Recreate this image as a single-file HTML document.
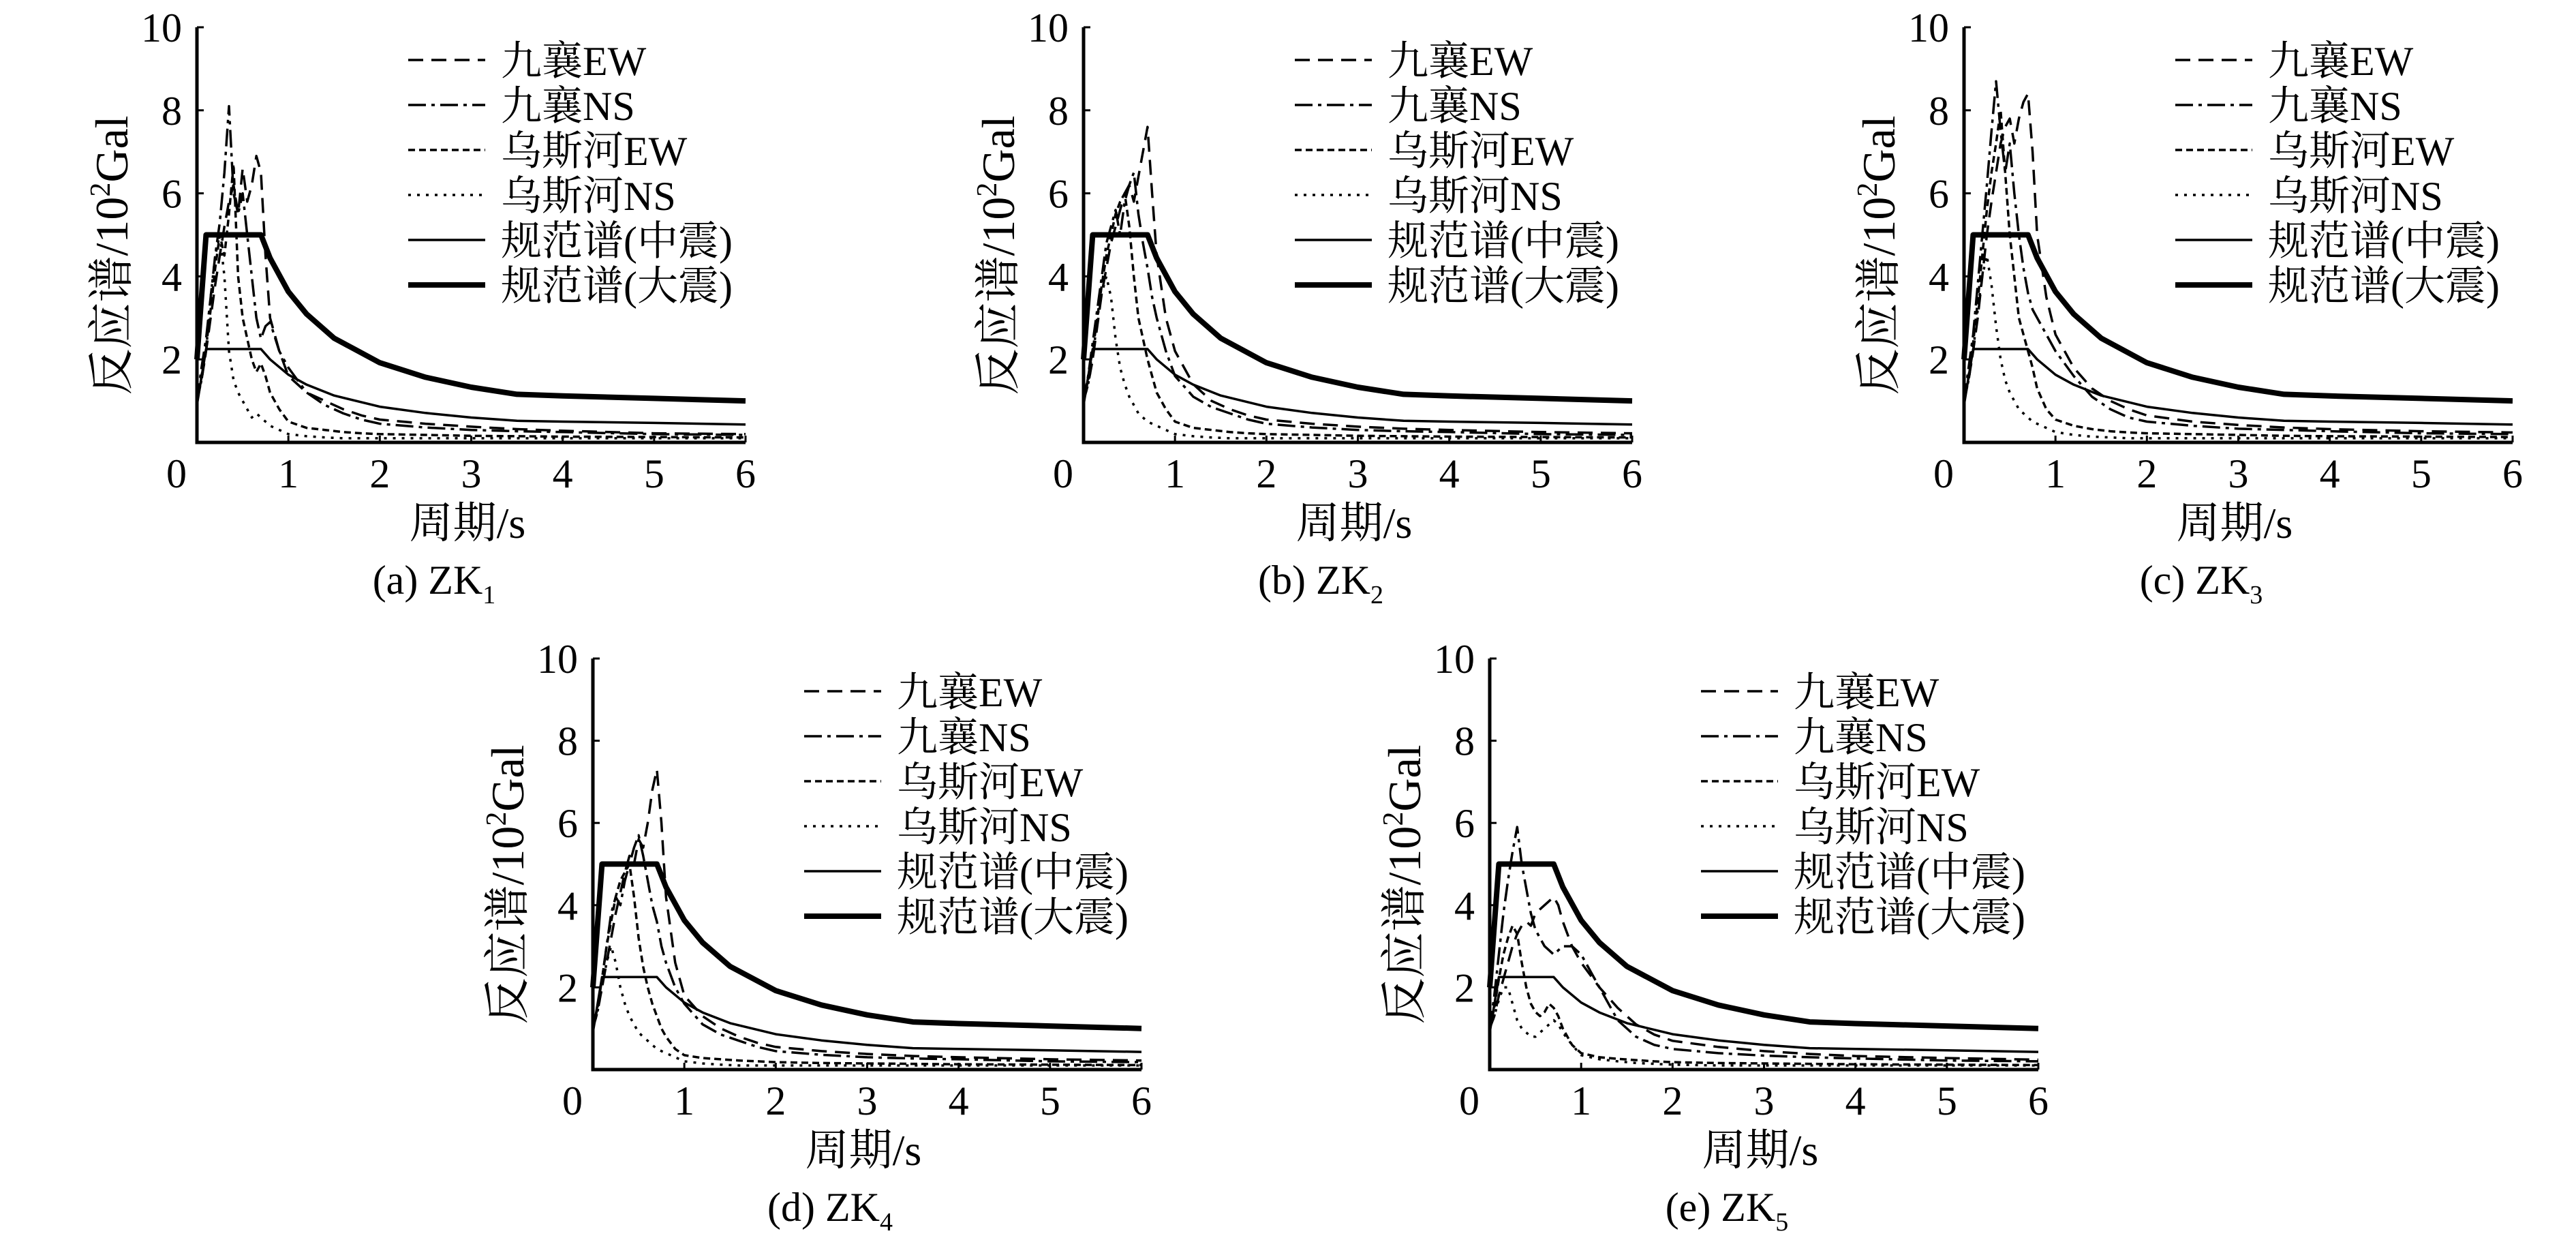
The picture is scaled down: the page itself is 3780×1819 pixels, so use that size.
<!DOCTYPE html>
<html><head><meta charset="utf-8">
<style>
html,body{margin:0;padding:0;background:#fff;}
svg{display:block;}
text{font-family:"Liberation Serif","Noto Serif CJK SC",serif;fill:#000;}
</style></head>
<body>
<svg id="chart" width="3780" height="1819" viewBox="0 0 3780 1819" xmlns="http://www.w3.org/2000/svg"></svg>
<script>
// shared period grid for records
const periods = [0,0.05,0.1,0.15,0.2,0.25,0.3,0.35,0.4,0.45,0.5,0.55,0.6,0.65,0.7,0.75,0.8,0.9,1.0,1.2,1.4,1.6,1.8,2,2.5,3,3.5,4,5,6];
// code spectra
const codePeriods = [0,0.1,0.7,0.8,1,1.2,1.5,2,2.5,3,3.5,4,5,6];
const codeMid   = [0.9,2.25,2.25,2.0,1.63,1.39,1.13,0.86,0.71,0.6,0.52,0.5,0.47,0.43];
const codeLarge = [2.0,5.0,5.0,4.44,3.63,3.09,2.51,1.92,1.57,1.33,1.16,1.12,1.06,1.0];
const xTicks = [0,1,2,3,4,5,6];
const yTicks = [2,4,6,8,10];
const legendLabels = ["九襄EW","九襄NS","乌斯河EW","乌斯河NS","规范谱(中震)","规范谱(大震)"];
const panelLetters = ["a","b","c","d","e"];
const panelSubs = ["1","2","3","4","5"];
// panel a
const aEW = [1.0,1.5,2.2,3.0,3.8,4.5,5.2,5.8,6.2,5.5,6.6,5.8,6.2,6.9,6.5,4.5,3.0,2.2,1.6,1.2,1.0,0.8,0.65,0.55,0.45,0.38,0.32,0.28,0.22,0.2];
const aNS = [1.0,1.8,2.5,3.5,4.5,5.3,6.5,8.1,6.0,5.5,6.0,5.0,4.0,3.0,2.5,2.8,2.9,2.2,1.8,1.2,0.9,0.7,0.55,0.45,0.36,0.3,0.27,0.25,0.2,0.18];
const aWEW = [1.0,1.6,2.3,3.2,4.2,5.0,4.5,5.5,6.7,4.0,3.0,2.5,2.0,1.7,1.9,1.6,1.2,0.8,0.5,0.35,0.3,0.25,0.22,0.2,0.18,0.16,0.15,0.14,0.13,0.12];
const aWNS = [1.0,1.5,2.2,3.5,4.5,5.0,4.0,2.2,1.5,1.2,1.0,0.8,0.6,0.7,0.6,0.5,0.4,0.3,0.2,0.15,0.12,0.1,0.1,0.1,0.1,0.1,0.1,0.1,0.1,0.1];
// panel b
const bEW = [1.0,1.4,2.0,2.8,3.6,4.2,4.8,5.2,5.6,6.0,6.2,5.8,6.4,7.0,7.6,6.0,4.5,3.0,2.2,1.4,1.0,0.8,0.65,0.55,0.45,0.38,0.33,0.3,0.25,0.22];
const bNS = [1.0,1.6,2.4,3.2,4.0,4.8,5.2,5.6,5.0,5.8,6.2,6.5,5.5,4.8,4.2,3.5,3.0,2.2,1.6,1.1,0.85,0.7,0.55,0.45,0.36,0.3,0.27,0.25,0.2,0.18];
const bWEW = [1.0,1.5,2.2,3.0,3.8,4.5,5.0,5.5,5.8,6.0,5.2,4.0,3.0,2.5,2.0,1.6,1.2,0.8,0.5,0.35,0.3,0.25,0.22,0.2,0.18,0.16,0.15,0.14,0.13,0.12];
const bWNS = [1.0,1.4,2.0,3.0,3.6,4.0,3.5,2.5,1.8,1.4,1.1,0.9,0.7,0.6,0.5,0.45,0.4,0.3,0.2,0.15,0.12,0.1,0.1,0.1,0.1,0.1,0.1,0.1,0.1,0.1];
// panel c
const cEW = [1.0,1.5,2.2,3.0,4.0,5.0,5.8,6.5,7.2,7.6,7.8,7.2,7.8,8.2,8.4,7.0,5.0,3.5,2.6,1.8,1.3,1.0,0.8,0.65,0.5,0.42,0.36,0.32,0.27,0.24];
const cNS = [1.0,1.8,2.6,3.8,5.0,6.2,7.5,8.7,7.5,6.5,7.2,6.0,5.0,4.2,3.6,3.2,3.0,2.6,2.2,1.6,1.1,0.8,0.6,0.5,0.4,0.33,0.3,0.27,0.22,0.2];
const cWEW = [1.0,1.6,2.4,3.4,4.5,5.6,6.5,7.2,8.0,6.5,5.0,4.0,3.0,2.6,2.2,1.8,1.3,0.8,0.55,0.4,0.32,0.27,0.24,0.22,0.2,0.18,0.16,0.15,0.14,0.13];
const cWNS = [1.0,1.5,2.2,3.2,4.0,4.5,3.8,2.8,2.0,1.5,1.2,1.0,0.8,0.7,0.6,0.5,0.45,0.35,0.25,0.18,0.14,0.12,0.1,0.1,0.1,0.1,0.1,0.1,0.1,0.1];
// panel d
const dEW = [1.0,1.4,2.0,2.6,3.2,3.8,4.3,4.8,5.2,5.0,5.6,5.4,6.0,6.8,7.3,6.0,4.2,2.6,1.8,1.3,1.0,0.8,0.65,0.55,0.45,0.38,0.33,0.3,0.25,0.22];
const dNS = [1.0,1.5,2.2,3.0,3.8,4.2,4.0,4.6,5.0,5.4,5.7,5.2,4.6,4.0,3.6,3.0,2.6,2.0,1.6,1.1,0.85,0.7,0.55,0.45,0.36,0.3,0.27,0.25,0.2,0.18];
const dWEW = [1.0,1.5,2.2,3.0,3.6,4.2,4.6,4.8,5.0,4.2,3.2,2.5,2.0,1.6,1.3,1.0,0.8,0.5,0.35,0.28,0.25,0.22,0.2,0.18,0.16,0.15,0.14,0.13,0.12,0.11];
const dWNS = [1.0,1.4,2.0,2.6,3.0,2.6,2.0,1.6,1.3,1.1,0.9,0.8,0.7,0.6,0.5,0.45,0.4,0.3,0.2,0.15,0.12,0.1,0.1,0.1,0.1,0.1,0.1,0.1,0.1,0.1];
// panel e
const eEW = [1.0,1.3,1.8,2.2,2.6,3.0,3.3,3.5,3.6,3.5,3.8,3.9,4.0,4.1,4.2,4.0,3.6,3.0,2.6,2.0,1.5,1.1,0.85,0.7,0.55,0.45,0.38,0.33,0.28,0.24];
const eNS = [1.0,1.8,2.8,3.8,4.6,5.3,5.9,5.0,4.4,3.8,3.4,3.2,3.0,2.9,2.8,2.9,3.0,3.0,2.8,2.0,1.2,0.8,0.6,0.5,0.4,0.34,0.3,0.27,0.22,0.2];
const eWEW = [1.0,1.5,2.2,2.8,3.2,3.5,3.3,2.6,2.0,1.6,1.4,1.3,1.4,1.6,1.5,1.3,1.0,0.6,0.4,0.3,0.26,0.23,0.2,0.18,0.16,0.15,0.14,0.13,0.12,0.11];
const eWNS = [1.0,1.3,1.7,2.0,2.0,1.6,1.2,1.0,0.9,0.8,0.8,0.9,1.0,1.1,1.2,1.1,0.9,0.6,0.35,0.25,0.2,0.16,0.14,0.12,0.1,0.1,0.1,0.1,0.1,0.1];
const panelEW = [aEW,bEW,cEW,dEW,eEW];
const panelNS = [aNS,bNS,cNS,dNS,eNS];
const panelWEW = [aWEW,bWEW,cWEW,dWEW,eWEW];
const panelWNS = [aWNS,bWNS,cWNS,dWNS,eWNS];

const NS = "http://www.w3.org/2000/svg";
const svg = document.getElementById("chart");
const origins = [[289,649,40],[1590,649,40],[2882,649,40],[870,1569,966],[2186,1569,966]];
const plotW = 805;
const dashes = ["22,12","26,8,5,8","10,6","4,9"];
const seriesNames = ["jiuxiang-ew","jiuxiang-ns","wusihe-ew","wusihe-ns"];

function mk(tag, attrs, parent){
  const e = document.createElementNS(NS, tag);
  for (const k in attrs) e.setAttribute(k, attrs[k]);
  parent.appendChild(e);
  return e;
}

origins.forEach((o, pi) => {
  const x0 = o[0], y0 = o[1], y10 = o[2];
  const xs = v => x0 + v / 6 * plotW;
  const ys = v => y0 - v / 10 * (y0 - y10);
  const g = mk("g", {}, svg);
  
  

  function line(xsArr, ysArr, attrs, name){
    const pts = xsArr.map((t,i) => xs(t).toFixed(1) + "," + ys(ysArr[i]).toFixed(1)).join(" ");
    const p = mk("polyline", Object.assign({points: pts, fill: "none", stroke: "#000", "stroke-linejoin": "round"}, attrs), g);
    
    
  }
  const recs = [panelEW[pi], panelNS[pi], panelWEW[pi], panelWNS[pi]];
  recs.forEach((r, si) => line(periods, r, {"stroke-width": 3.5, "stroke-dasharray": dashes[si]}, seriesNames[si] + "-line"));
  line(codePeriods, codeMid, {"stroke-width": 3.5}, "code-spectrum-moderate-line");
  line(codePeriods, codeLarge, {"stroke-width": 8}, "code-spectrum-major-line");

  const ax = mk("path", {d: `M${x0},${y10} L${x0},${y0} L${x0+plotW},${y0}`, fill: "none", stroke: "#000", "stroke-width": 5}, g);
  
  
  yTicks.forEach(v => {
    mk("line", {x1: x0, x2: x0 + 10, y1: ys(v), y2: ys(v), stroke: "#000", "stroke-width": 3}, g);
    const t = mk("text", {x: x0 - 22, y: ys(v) + 21, "font-size": 60, "text-anchor": "end"}, g);
    t.textContent = v;
    
    
  });
  xTicks.forEach(v => {
    if (v > 0) mk("line", {x1: xs(v), x2: xs(v), y1: y0, y2: y0 - 10, stroke: "#000", "stroke-width": 3}, g);
    const t = mk("text", {x: v === 0 ? x0 - 30 : xs(v), y: y0 + 66, "font-size": 60, "text-anchor": "middle"}, g);
    t.textContent = v;
    
    
  });
  const xt = mk("text", {x: x0 + 397, y: y0 + 140, "font-size": 64, "text-anchor": "middle"}, g);
  xt.textContent = "周期/s";
  
  
  const yt = mk("text", {x: 0, y: 0, "font-size": 68, "text-anchor": "middle", transform: `translate(${x0 - 102},${(y0 + y10) / 2 + 30}) rotate(-90)`}, g);
  yt.innerHTML = '反应谱/10<tspan font-size="42" dy="-26">2</tspan><tspan dy="26">Gal</tspan>';
  
  
  const cap = mk("text", {x: x0 + 348, y: y0 + 222, "font-size": 60, "text-anchor": "middle"}, g);
  cap.innerHTML = `(${panelLetters[pi]}) ZK<tspan font-size="38" dy="14">${panelSubs[pi]}</tspan>`;
  
  

  legendLabels.forEach((lab, i) => {
    const ly = y10 + 48 + i * 66;
    const la = {x1: x0 + 310, x2: x0 + 423, y1: ly, y2: ly, stroke: "#000", "stroke-width": i === 5 ? 8 : 3.5};
    if (i < 4) la["stroke-dasharray"] = dashes[i];
    const l = mk("line", la, g);
    
    
    const t = mk("text", {x: x0 + 446, y: ly + 22, "font-size": 60}, g);
    t.textContent = lab;
    
    
  });
});
</script>
</body></html>
